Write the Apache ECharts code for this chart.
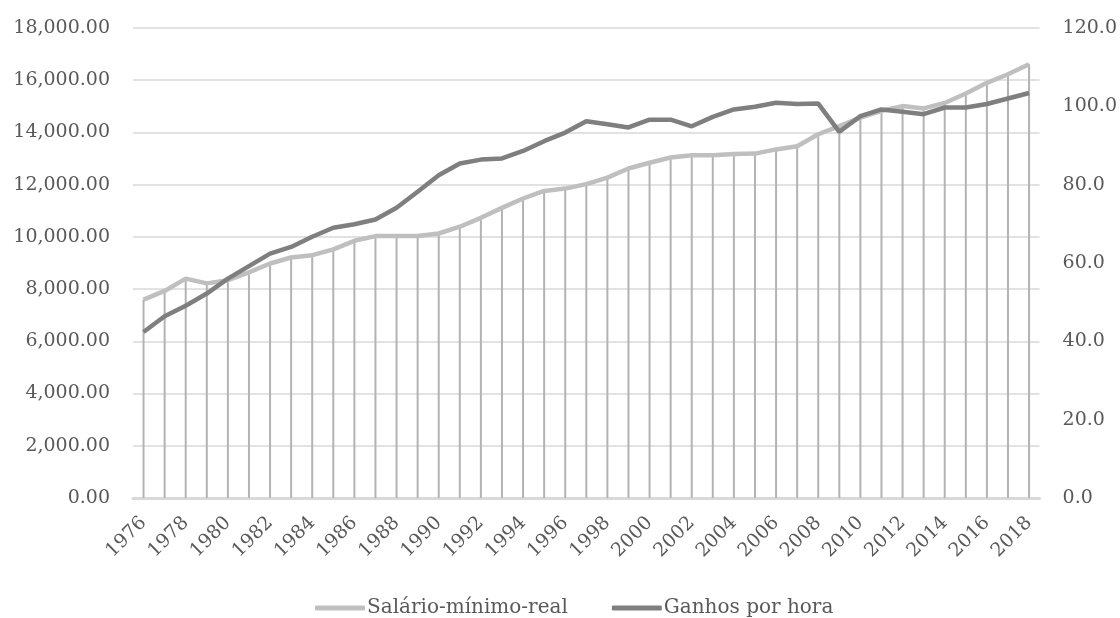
<!DOCTYPE html>
<html>
<head>
<meta charset="utf-8">
<script src="https://cdn.jsdelivr.net/npm/echarts@6/dist/echarts.min.js"></script>
<style>html,body{margin:0;padding:0;background:#fff;}#c{width:1120px;height:618px;}</style>
</head>
<body>
<div id="c"></div>
<script>
const years = [1976,1977,1978,1979,1980,1981,1982,1983,1984,1985,1986,1987,1988,1989,1990,1991,1992,1993,1994,1995,1996,1997,1998,1999,2000,2001,2002,2003,2004,2005,2006,2007,2008,2009,2010,2011,2012,2013,2014,2015,2016,2017,2018].map(String);
const salarioMinimoReal = [7600,7930,8400,8220,8340,8640,8980,9210,9300,9520,9850,10030,10030,10030,10130,10390,10730,11110,11470,11760,11850,12020,12270,12620,12840,13040,13130,13130,13170,13190,13350,13470,13930,14240,14570,14830,15010,14920,15130,15490,15900,16230,16610];
const ganhosPorHora = [42.4,46.4,49.1,52.2,56.0,59.2,62.4,64.1,66.7,69.0,69.9,71.1,74.1,78.2,82.4,85.4,86.4,86.7,88.6,91.1,93.3,96.2,95.4,94.6,96.6,96.6,94.9,97.3,99.2,99.9,100.9,100.6,100.7,93.5,97.5,99.2,98.6,98.0,99.7,99.7,100.6,102.0,103.4];
const leftTicks = {min: 0, max: 18000, interval: 2000};
const rightTicks = {min: 0, max: 120, interval: 20};

const FONT = 'DejaVu Serif';
const chart = echarts.init(document.getElementById('c'), null, {renderer: 'canvas'});
chart.setOption({
  animation: false,
  backgroundColor: '#ffffff',
  grid: {left: 133, right: 80, top: 28, bottom: 120, containLabel: false},
  legend: {
    data: ['Salário-mínimo-real', 'Ganhos por hora'],
    top: 593,
    left: 310,
    icon: 'roundRect',
    itemWidth: 50,
    itemHeight: 5,
    itemGap: 44,
    textStyle: {fontFamily: FONT, fontSize: 20, color: '#595959', padding: [0, 0, 0, -3]}
  },
  xAxis: {
    type: 'category',
    data: years,
    boundaryGap: true,
    axisLine: {show: true, lineStyle: {color: '#d9d9d9', width: 3}},
    axisTick: {show: false},
    axisLabel: {interval: 1, rotate: 45, fontFamily: FONT, fontSize: 19, color: '#595959', margin: 22}
  },
  yAxis: [
    {
      type: 'value', min: leftTicks.min, max: leftTicks.max, interval: leftTicks.interval,
      axisLine: {show: false}, axisTick: {show: false},
      splitLine: {lineStyle: {color: '#d9d9d9', width: 1.5}},
      axisLabel: {
        fontFamily: FONT, fontSize: 19, color: '#595959', margin: 23,
        formatter: v => v.toLocaleString('en-US', {minimumFractionDigits: 2, maximumFractionDigits: 2})
      }
    },
    {
      type: 'value', min: rightTicks.min, max: rightTicks.max, interval: rightTicks.interval,
      axisLine: {show: false}, axisTick: {show: false}, splitLine: {show: false},
      axisLabel: {fontFamily: FONT, fontSize: 19, color: '#595959', margin: 23, formatter: v => v.toFixed(1)}
    }
  ],
  series: [
    {
      name: 'drop', type: 'bar', yAxisIndex: 0, data: salarioMinimoReal,
      barWidth: 2, silent: true, z: 1,
      itemStyle: {color: '#b3b3b3'}
    },
    {
      name: 'Salário-mínimo-real', type: 'line', yAxisIndex: 0, data: salarioMinimoReal,
      symbol: 'none', z: 3,
      lineStyle: {color: '#bfbfbf', width: 4.5}, itemStyle: {color: '#bfbfbf'}
    },
    {
      name: 'Ganhos por hora', type: 'line', yAxisIndex: 1, data: ganhosPorHora,
      symbol: 'none', z: 4,
      lineStyle: {color: '#7f7f7f', width: 4.5}, itemStyle: {color: '#7f7f7f'}
    }
  ]
});
</script>
</body>
</html>
